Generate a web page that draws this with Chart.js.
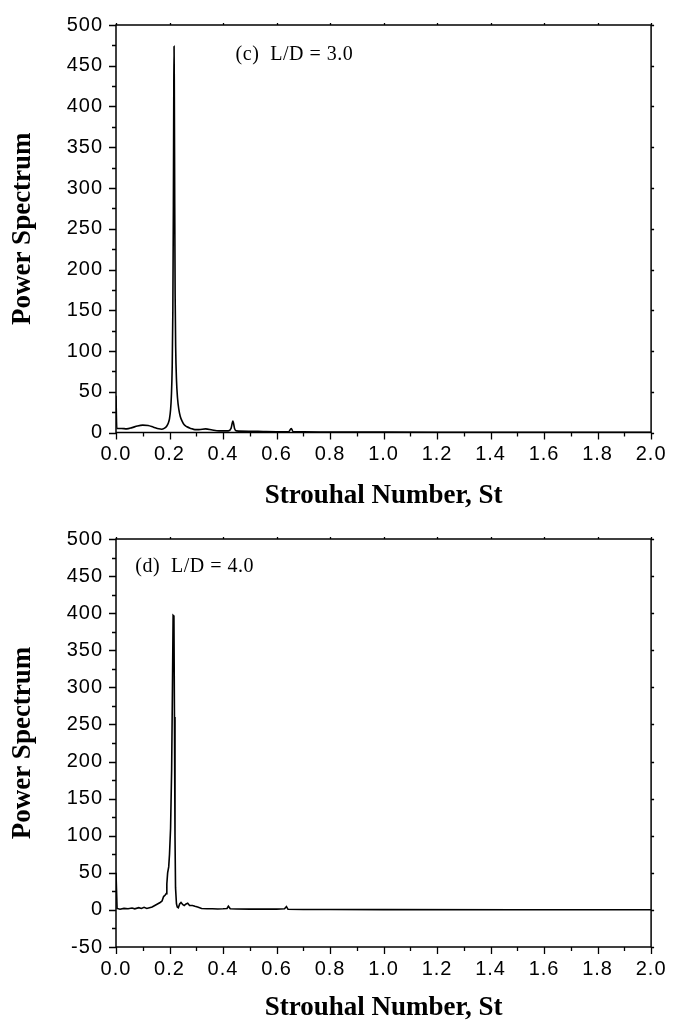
<!DOCTYPE html>
<html>
<head>
<meta charset="utf-8">
<script src="https://cdn.jsdelivr.net/npm/chart.js@4.4.1/dist/chart.umd.min.js"></script>
<style>
  html, body { margin: 0; padding: 0; background: #ffffff; }
  #wrap { position: relative; width: 675px; height: 1026px; background: #fff; }
  canvas { position: absolute; left: 0; }
  #c1 { top: 0; }
  #c2 { top: 514px; }
</style>
</head>
<body>
<div id="wrap">
  <canvas id="c1" width="675" height="514"></canvas>
  <canvas id="c2" width="675" height="512"></canvas>
</div>
<script>
// ---------- data ----------
const xTickLabels = ['0.0','0.2','0.4','0.6','0.8','1.0','1.2','1.4','1.6','1.8','2.0'];
const yTicksTop = [0,50,100,150,200,250,300,350,400,450,500];
const yTicksBottom = [-50,0,50,100,150,200,250,300,350,400,450,500];

// (c) L/D = 3.0
const stC = [0.000,0.003,0.020,0.040,0.060,0.080,0.100,0.120,0.140,0.160,0.170,0.180,0.190,0.196,0.200,0.204,0.207,0.210,0.2125,0.2145,0.216,0.217,0.218,0.2195,0.221,0.223,0.226,0.230,0.235,0.240,0.247,0.255,0.265,0.280,0.295,0.310,0.335,0.360,0.385,0.420,0.430,0.437,0.443,0.450,0.500,0.550,0.600,0.645,0.655,0.662,0.700,0.800,1.000,1.200,1.500,2.000];
const psC = [45,5,5,4.5,6,8,9,8.5,6.5,4.5,4,5,8,12,17,28,45,80,150,280,420,474,420,280,170,105,65,42,28,20,14,9.5,7,5,3.5,3.5,4.5,3,2,2,5,14,5,2,1.5,1.2,1,1,5,1,0.8,0.6,0.4,0.3,0.2,0.2];

// (d) L/D = 4.0
const stD = [0.000,0.004,0.015,0.030,0.045,0.060,0.070,0.085,0.095,0.105,0.115,0.125,0.135,0.145,0.155,0.165,0.172,0.178,0.184,0.188,0.190,0.193,0.197,0.200,0.204,0.208,0.211,0.2135,0.2165,0.2185,0.2205,0.2225,0.226,0.229,0.233,0.238,0.243,0.250,0.255,0.262,0.268,0.275,0.286,0.295,0.305,0.320,0.340,0.360,0.380,0.400,0.415,0.420,0.427,0.450,0.500,0.550,0.600,0.630,0.637,0.643,0.700,0.800,1.000,1.500,2.000];
const psD = [50,2,1,2,1.5,2.5,1.5,3,2,3.5,2,3,4,6,8,10,12,18,20,22,35,50,58,75,110,190,300,397,396,260,100,30,8,4,3,8,10,7,6,8,9,6,6,5,4,2,1.5,1.5,1.2,1.5,2,5,1.5,1.2,1,1,1,1.5,4.5,0.8,0.5,0.5,0.4,0.3,0.3];

const labelC = '(c)  L/D = 3.0';
const labelD = '(d)  L/D = 4.0';

// ---------- helpers ----------
const TICK_FONT = { family: "'Liberation Sans', Arial, sans-serif", size: 20 };
const TITLE_FONT = { family: "'Liberation Serif', 'Times New Roman', serif", size: 27, weight: 'bold' };

function framePlugin(yMin, yMax, note) {
  return {
    id: 'frame',
    afterDatasetsDraw(chart) {
      // tick labels are drawn after this (z = 1); widen them slightly
      chart.ctx.letterSpacing = '1px';
    },
    afterDraw(chart) {
      const ctx = chart.ctx;
      ctx.letterSpacing = '0px';
      const a = chart.chartArea;
      const xs = chart.scales.x, ys = chart.scales.y;
      ctx.save();
      ctx.strokeStyle = '#000';
      ctx.lineWidth = 1.5;
      ctx.strokeRect(a.left, a.top, a.right - a.left, a.bottom - a.top);
      ctx.lineWidth = 1.3;
      ctx.beginPath();
      for (let i = 0; i <= 20; i++) {
        const v = i * 0.1;
        const px = Math.round(xs.getPixelForValue(v)) + 0.5;
        const major = i % 2 === 0;
        ctx.moveTo(px, a.bottom);
        ctx.lineTo(px, a.bottom + (major ? 7 : 4));
        if (major) { ctx.moveTo(px, a.top); ctx.lineTo(px, a.top - 2); }
      }
      for (let v = yMin; v <= yMax; v += 25) {
        const py = Math.round(ys.getPixelForValue(v)) + 0.5;
        const major = (v % 50) === 0;
        ctx.moveTo(a.left, py);
        ctx.lineTo(a.left - (major ? 7 : 4), py);
        if (major) { ctx.moveTo(a.right, py); ctx.lineTo(a.right + 3, py); }
      }
      ctx.stroke();
      ctx.fillStyle = '#000';
      ctx.font = "20px 'Liberation Serif', 'Times New Roman', serif";
      ctx.letterSpacing = '0.5px';
      ctx.textAlign = 'left';
      ctx.textBaseline = 'middle';
      ctx.fillText(note.text, xs.getPixelForValue(note.x), ys.getPixelForValue(note.y));
      ctx.restore();
      ctx.letterSpacing = '0px';
    }
  };
}

function makeChart(id, st, ps, yMin, yMax, yTicks, note, pad, xAxisH, smooth) {
  const pts = st.map((x, i) => ({ x: x, y: ps[i] }));
  return new Chart(document.getElementById(id), {
    type: 'line',
    data: {
      datasets: [{
        data: pts,
        borderColor: '#000',
        borderWidth: 1.6,
        pointRadius: 0,
        fill: false,
        tension: 0,
        cubicInterpolationMode: smooth ? 'monotone' : 'default'
      }]
    },
    options: {
      responsive: false,
      animation: false,
      devicePixelRatio: 1,
      layout: { padding: pad },
      plugins: { legend: { display: false }, tooltip: { enabled: false } },
      scales: {
        x: {
          type: 'linear', min: 0, max: 2,
          grid: { display: false, drawTicks: false },
          border: { display: false },
          afterBuildTicks(scale) {
            scale.ticks = xTickLabels.map(t => ({ value: parseFloat(t) }));
          },
          afterFit(scale) { scale.height = xAxisH; },
          ticks: {
            z: 1,
            color: '#000', font: TICK_FONT, padding: 10, maxRotation: 0, autoSkip: false,
            callback: (v) => Number(v).toFixed(1)
          },
          title: { display: true, text: 'Strouhal Number, St', color: '#000', font: TITLE_FONT, padding: { top: 0, bottom: 2 } }
        },
        y: {
          type: 'linear', min: yMin, max: yMax,
          grid: { display: false, drawTicks: false },
          border: { display: false },
          afterBuildTicks(scale) {
            scale.ticks = yTicks.map(v => ({ value: v }));
          },
          afterFit(scale) { scale.width = 116; },
          ticks: { z: 1, color: '#000', font: TICK_FONT, padding: 13, autoSkip: false },
          title: { display: true, text: 'Power Spectrum', color: '#000', font: TITLE_FONT, padding: { top: 7, bottom: 0 } }
        }
      }
    },
    plugins: [framePlugin(yMin, yMax, note)]
  });
}

makeChart('c1', stC, psC, 0, 500, yTicksTop, { text: labelC, x: 0.447, y: 464 },
  { top: 19, right: 18, left: 0, bottom: 0 }, 81.5, true);
makeChart('c2', stD, psD, -50, 500, yTicksBottom, { text: labelD, x: 0.072, y: 462 },
  { top: 18, right: 20, left: 0, bottom: 0 }, 79, false);
</script>
</body>
</html>
